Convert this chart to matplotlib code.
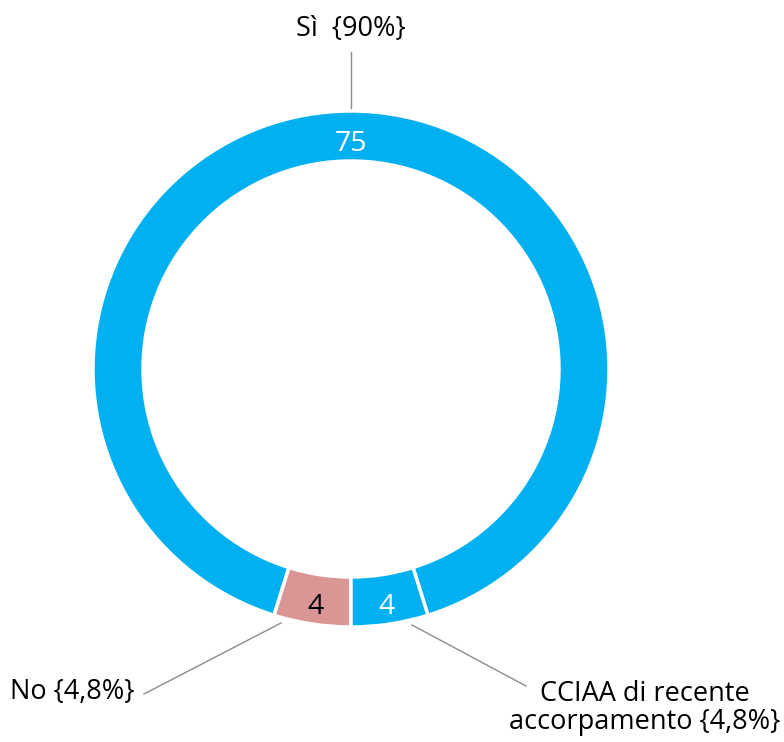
import numpy as np
import matplotlib
matplotlib.use("Agg")
import matplotlib.pyplot as plt

categories = ["Sì", "No", "CCIAA di recente\naccorpamento"]
values = [75, 4, 4]
pct_labels = ["{90%}", "{4,8%}", "{4,8%}"]
colors = ["#00B0F0", "#D99694", "#00B0F0"]
value_text_colors = ["white", "black", "white"]

plt.rcParams['font.family'] = ['Open Sans', 'DejaVu Sans']

W, H = 784, 742
fig = plt.figure(figsize=(W / 100, H / 100), dpi=100)
ax = fig.add_axes([0, 0, 1, 1])
ax.set_xlim(0, W)
ax.set_ylim(0, H)
ax.set_aspect('equal')
ax.axis('off')

cx, cy = 351, H - 369
R_out, width = 258, 50
total = sum(values)
start = 90 - 360 * values[0] / total / 2

wedges, _ = ax.pie(values, colors=colors, startangle=start, counterclock=True,
                   radius=R_out, center=(cx, cy),
                   wedgeprops=dict(width=width, edgecolor='white', linewidth=2.5))
ax.set_xlim(0, W)
ax.set_ylim(0, H)

# value labels inside the ring
r_mid = R_out - width / 2
for w, v, tc in zip(wedges, values, value_text_colors):
    ang = np.deg2rad((w.theta1 + w.theta2) / 2)
    ax.text(cx + r_mid * np.cos(ang), cy + r_mid * np.sin(ang) - 8, str(v),
            ha='center', va='center', fontsize=20.5, color=tc)

line_kw = dict(color='#8c8c8c', lw=1.0)
fs = 19.5

# Sì label
ax.plot([cx, cx], [H - 108, H - 52], **line_kw)
ax.text(cx, H - 29, f"{categories[0]}  {pct_labels[0]}", ha='center', va='center',
        fontsize=fs, color='black')

# No label
ax.plot([281, 144], [H - 623, H - 694], **line_kw)
ax.text(134, H - 692, f"{categories[1]} {pct_labels[1]}", ha='right', va='center',
        fontsize=fs, color='black')

# CCIAA label
ax.plot([412, 526], [H - 625, H - 686], **line_kw)
ax.text(645, H - 708, f"{categories[2]} {pct_labels[2]}", ha='center', va='center',
        fontsize=fs, color='black', linespacing=1.0)

fig.savefig("out.png", dpi=100)
